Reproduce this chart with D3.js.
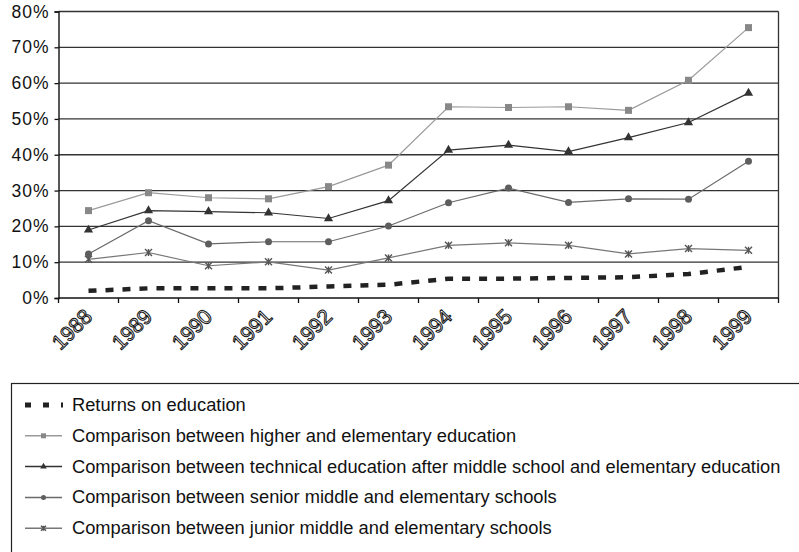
<!DOCTYPE html>
<html>
<head>
<meta charset="utf-8">
<script src="https://cdn.jsdelivr.net/npm/d3@7"></script>
<style>
  body { margin: 0; background: #fff; }
  svg { display: block; font-family: "Liberation Sans", Arial, sans-serif; }
</style>
</head>
<body>
<svg width="799" height="552"></svg>
<script>
// years on the x axis
var years = ['1988', '1989', '1990', '1991', '1992', '1993', '1994', '1995', '1996', '1997', '1998', '1999'];
var yTicks = [0, 10, 20, 30, 40, 50, 60, 70, 80];

// series values (%)
var returnsOnEducation = [2.0, 2.7, 2.7, 2.7, 3.2, 3.7, 5.4, 5.4, 5.6, 5.8, 6.7, 8.7];
var higherVsElementary = [24.4, 29.4, 28.0, 27.7, 31.1, 37.1, 53.4, 53.2, 53.4, 52.4, 60.8, 75.5];
var technicalVsElementary = [19.0, 24.4, 24.1, 23.8, 22.2, 27.2, 41.3, 42.7, 40.9, 44.8, 49.0, 57.2];
var seniorVsElementary = [12.3, 21.6, 15.1, 15.7, 15.7, 20.1, 26.6, 30.7, 26.7, 27.7, 27.6, 38.2];
var juniorVsElementary = [10.8, 12.7, 9.0, 10.1, 7.8, 11.2, 14.7, 15.4, 14.7, 12.3, 13.8, 13.3];

var seriesNames = [
    'Returns on education',
    'Comparison between higher and elementary education',
    'Comparison between technical education after middle school and elementary education',
    'Comparison between senior middle and elementary schools',
    'Comparison between junior middle and elementary schools'
];

var series = [
    { name: seriesNames[0], values: returnsOnEducation, line: '#222', marker: 'none', width: 4.5, dash: '8,9' },
    { name: seriesNames[1], values: higherVsElementary, line: '#9a9a9a', fill: '#888', marker: 'square', width: 1.2 },
    { name: seriesNames[2], values: technicalVsElementary, line: '#333', fill: '#333', marker: 'triangle', width: 1.2 },
    { name: seriesNames[3], values: seniorVsElementary, line: '#6a6a6a', fill: '#5e5e5e', marker: 'circle', width: 1.2 },
    { name: seriesNames[4], values: juniorVsElementary, line: '#777', fill: '#555', marker: 'star', width: 1.2 }
];

var svg = d3.select('svg');

var plot = { l: 58.5, r: 778.5, t: 11.5, b: 298 };

var x = d3.scaleBand().domain(years).range([plot.l, plot.r]);
var y = d3.scaleLinear().domain([0, 80]).range([plot.b, plot.t]);

// gridlines
svg.append('g')
    .selectAll('line')
    .data(yTicks.slice(1))
    .enter()
    .append('line')
    .attr('x1', plot.l).attr('x2', plot.r)
    .attr('y1', function (d) { return y(d); })
    .attr('y2', function (d) { return y(d); })
    .attr('stroke', '#333')
    .attr('stroke-width', 1.3);

// right border
svg.append('line')
    .attr('x1', plot.r).attr('x2', plot.r)
    .attr('y1', plot.t).attr('y2', plot.b)
    .attr('stroke', '#333').attr('stroke-width', 1.3);

// y axis
var yAxis = d3.axisLeft(y).tickValues(yTicks).tickSize(4).tickPadding(5)
    .tickFormat(function (d) { return d + '%'; });
var yg = svg.append('g')
    .attr('transform', 'translate(' + plot.l + ',0)')
    .call(yAxis);
yg.select('.domain').attr('stroke', '#111').attr('stroke-width', 1.4);
yg.selectAll('.tick line').attr('stroke', '#111').attr('stroke-width', 1.3);
yg.selectAll('.tick text')
    .attr('fill', '#111')
    .style('font-size', '17.5px')
    .style('letter-spacing', '1px')
    .style('font-family', '"Liberation Sans", Arial, sans-serif');

// x axis: ticks at band edges
var xg = svg.append('g').attr('transform', 'translate(0,' + plot.b + ')');
xg.append('line')
    .attr('x1', plot.l).attr('x2', plot.r)
    .attr('stroke', '#111').attr('stroke-width', 1.4);
var edges = years.map(function (d) { return x(d); }).concat([plot.r]);
xg.selectAll('.edge')
    .data(edges)
    .enter()
    .append('line')
    .attr('class', 'edge')
    .attr('x1', function (d) { return d; }).attr('x2', function (d) { return d; })
    .attr('y1', 0).attr('y2', 5)
    .attr('stroke', '#111').attr('stroke-width', 1.3);

// hollow-looking rotated year labels
xg.selectAll('.year')
    .data(years)
    .enter()
    .append('text')
    .attr('class', 'year')
    .attr('text-anchor', 'end')
    .attr('transform', function (d) {
        return 'translate(' + (x(d) + x.bandwidth() / 2 + 5) + ',20)rotate(-45)';
    })
    .attr('fill', '#fff')
    .attr('stroke', '#111')
    .attr('stroke-width', 1)
    .style('font-size', '21px')
    .text(function (d) { return d; });

var cx = function (i) { return x(years[i]) + x.bandwidth() / 2; };

var line = d3.line()
    .x(function (d, i) { return cx(i); })
    .y(function (d) { return y(d); });

function drawMarker(g, type, fill, px, py, s) {
    if (type === 'square') {
        g.append('rect').attr('x', px - s / 2).attr('y', py - s / 2)
            .attr('width', s).attr('height', s).attr('fill', fill);
    } else if (type === 'triangle') {
        g.append('path').attr('d', d3.symbol().type(d3.symbolTriangle).size(s * s * 0.75)())
            .attr('transform', 'translate(' + px + ',' + py + ')').attr('fill', fill);
    } else if (type === 'circle') {
        g.append('circle').attr('cx', px).attr('cy', py).attr('r', s / 2).attr('fill', fill);
    } else if (type === 'star') {
        var r = s / 2;
        g.append('path')
            .attr('d', 'M' + (px - r) + ',' + (py - r) + 'L' + (px + r) + ',' + (py + r) +
                'M' + (px - r) + ',' + (py + r) + 'L' + (px + r) + ',' + (py - r) +
                'M' + px + ',' + (py - r) + 'L' + px + ',' + (py + r))
            .attr('stroke', fill).attr('stroke-width', 1.4).attr('fill', 'none');
    }
}

// draw series, back to front
series.slice().reverse().forEach(function (s) {
    var g = svg.append('g');
    g.append('path')
        .datum(s.values)
        .attr('d', line)
        .attr('fill', 'none')
        .attr('stroke', s.line)
        .attr('stroke-width', s.width)
        .attr('stroke-dasharray', s.dash || null);
    if (s.marker !== 'none') {
        s.values.forEach(function (v, i) {
            drawMarker(g, s.marker, s.fill, cx(i), y(v), 7);
        });
    }
});

// legend
var legend = svg.append('g');
legend.append('rect')
    .attr('x', 11.5).attr('y', 383.5)
    .attr('width', 800).attr('height', 200)
    .attr('fill', 'none').attr('stroke', '#222').attr('stroke-width', 1.2);

series.forEach(function (s, i) {
    var ly = 405 + i * 30.8;
    var item = legend.append('g');
    if (s.marker === 'none') {
        item.append('line')
            .attr('x1', 25).attr('x2', 63).attr('y1', ly).attr('y2', ly)
            .attr('stroke', s.line).attr('stroke-width', 5)
            .attr('stroke-dasharray', '6,12');
    } else {
        item.append('line')
            .attr('x1', 25).attr('x2', 62).attr('y1', ly).attr('y2', ly)
            .attr('stroke', s.line).attr('stroke-width', 1.5);
        drawMarker(item, s.marker, s.fill, 43.5, ly, 5);
    }
    item.append('text')
        .attr('x', 72).attr('y', ly + 6)
        .attr('fill', '#111')
        .style('font-size', '18.3px')
        .text(s.name);
});
</script>
</body>
</html>
